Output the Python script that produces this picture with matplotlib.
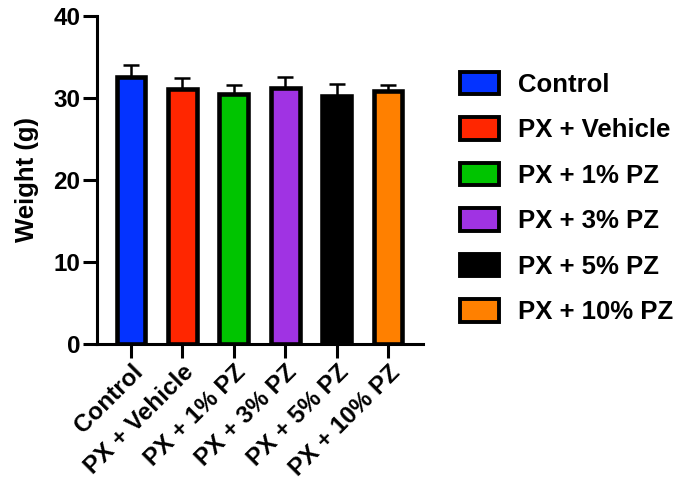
import numpy as np
import matplotlib
matplotlib.use("Agg")
import matplotlib.pyplot as plt
from matplotlib.patches import Patch

plt.rcParams['font.family'] = ['Liberation Sans', 'DejaVu Sans']
plt.rcParams['font.weight'] = 'bold'

# Data
groups = ['Control', 'PX + Vehicle', 'PX + 1% PZ', 'PX + 3% PZ', 'PX + 5% PZ', 'PX + 10% PZ']
weight_mean = [32.6, 31.1, 30.5, 31.2, 30.3, 30.9]
weight_sem = [1.4, 1.3, 1.1, 1.4, 1.4, 0.7]
bar_colors = ['#0433FF', '#FF2600', '#00C400', '#A033E3', '#000000', '#FF8000']

fig = plt.figure(figsize=(6.81, 4.83), dpi=100)
ax = fig.add_axes([97 / 681, 139 / 483, (423 - 97) / 681, (344 - 16) / 483])

x = np.arange(len(groups))
ax.bar(x, weight_mean, width=0.56, color=bar_colors, edgecolor='black',
       linewidth=3.3, zorder=2)
ax.errorbar(x, weight_mean, yerr=[np.zeros(len(x)), weight_sem], fmt='none',
            ecolor='black', elinewidth=1.8, capsize=6, capthick=1.8, zorder=1)

ax.set_ylim(0, 40)
ax.set_xlim(-0.66, 5.68)
ax.set_yticks([0, 10, 20, 30, 40])
ax.set_xticks(x)
ax.set_xticklabels(groups, rotation=45, ha='right', rotation_mode='anchor',
                   fontsize=17.5, fontweight='bold')
ax.set_ylabel('Weight (g)', fontsize=18.5, fontweight='bold', labelpad=10)
for lab in ax.get_yticklabels():
    lab.set_fontsize(17.5)
    lab.set_fontweight('bold')

for s in ['top', 'right']:
    ax.spines[s].set_visible(False)
for s in ['left', 'bottom']:
    ax.spines[s].set_linewidth(2.2)
ax.tick_params(axis='both', width=2.2, length=10, pad=2)

handles = [Patch(facecolor=c, edgecolor='black', linewidth=2.8) for c in bar_colors]
fig.legend(handles, groups, loc='upper left', bbox_to_anchor=(460 / 681, 1 - 72 / 483),
           frameon=False, prop={'weight': 'bold', 'size': 18.5},
           handlelength=1.5, handleheight=0.95, labelspacing=0.8,
           handletextpad=0.75, borderpad=0, borderaxespad=0)

fig.savefig('out.png', dpi=100)
